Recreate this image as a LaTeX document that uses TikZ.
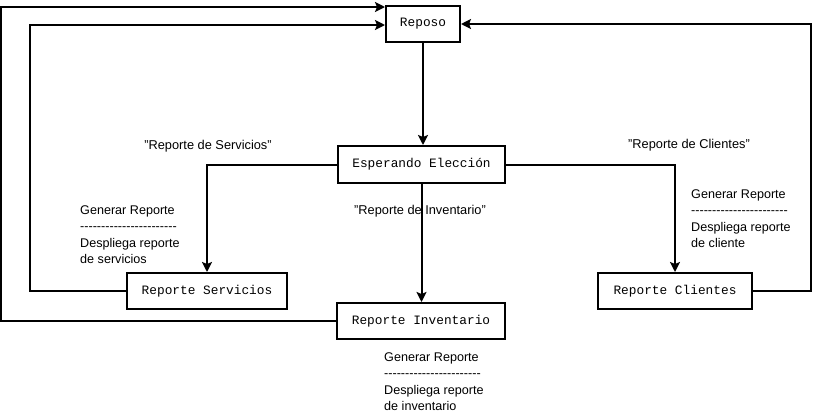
\documentclass[tikz,border=0pt]{standalone}
\usepackage{fontspec}
\setmainfont{Liberation Sans}
\newfontfamily\boxfont{Liberation Mono}
\usetikzlibrary{arrows.meta}
\newcommand\hy{\mbox{-}}
\newcommand\dashrow{\hy\hy\hy\hy\hy\hy\hy\hy\hy\hy\hy\hy\hy\hy\hy\hy\hy\hy\hy\hy\hy\hy\hy}
\tikzset{
  statebox/.style={draw, line width=2bp, inner sep=0pt, font=\boxfont\fontsize{12.8bp}{14bp}\selectfont},
  conn/.style={line width=2bp, -{Stealth[length=10bp,width=10bp,inset=2bp]}},
  lbl/.style={inner sep=0pt, font=\fontsize{12.8bp}{16bp}\selectfont},
  note/.style={inner sep=0pt, anchor=north west, align=left, font=\fontsize{12.6bp}{16.5bp}\selectfont}
}
\begin{document}
\begin{tikzpicture}[x=1bp,y=-1bp]
\useasboundingbox (0,0) rectangle (814,414);
\node[statebox, minimum width=74bp, minimum height=36bp] (rep) at (423,24) {Reposo};
\node[statebox, minimum width=167bp, minimum height=37bp] (esp) at (421.5,164.5) {Esperando Elección};
\node[statebox, minimum width=160bp, minimum height=36bp] (serv) at (207,291) {Reporte Servicios};
\node[statebox, minimum width=168bp, minimum height=36bp] (inv) at (421,321) {Reporte Inventario};
\node[statebox, minimum width=154bp, minimum height=36bp] (cli) at (675,291) {Reporte Clientes};

\coordinate (s1) at (30,291);
\coordinate (s2) at (30,25);
\coordinate (i1) at (1,321);
\coordinate (i2) at (1,7);
\coordinate (c1) at (811,291);
\coordinate (c2) at (811,24);

\draw[conn] (rep.south) -- (rep.south |- esp.north);
\draw[conn] (esp.west) -| (serv.north);
\draw[conn] (esp.south) -- (esp.south |- inv.north);
\draw[conn] (esp.east) -| (cli.north);
\draw[conn] (serv.west) -- (s1) -- (s2) -- (rep.west |- s2);
\draw[conn] (inv.west) -- (i1) -- (i2) -- (rep.west |- i2);
\draw[conn] (cli.east) -- (c1) -- (c2) -- (rep.east |- c2);

\node[lbl] (l1) at (208,146) {"Reporte de Servicios"};
\node[lbl] (l2) at (420,211) {"Reporte de Inventario"};
\node[lbl] (l3) at (689,145) {"Reporte de Clientes"};

\node[note] (n1) at (80,205) {Generar Reporte\\\dashrow\\Despliega reporte\\de servicios};
\node[note] (n2) at (691,189) {Generar Reporte\\\dashrow\\Despliega reporte\\de cliente};
\node[note] (n3) at (384,352) {Generar Reporte\\\dashrow\\Despliega reporte\\de inventario};
\end{tikzpicture}
\end{document}
